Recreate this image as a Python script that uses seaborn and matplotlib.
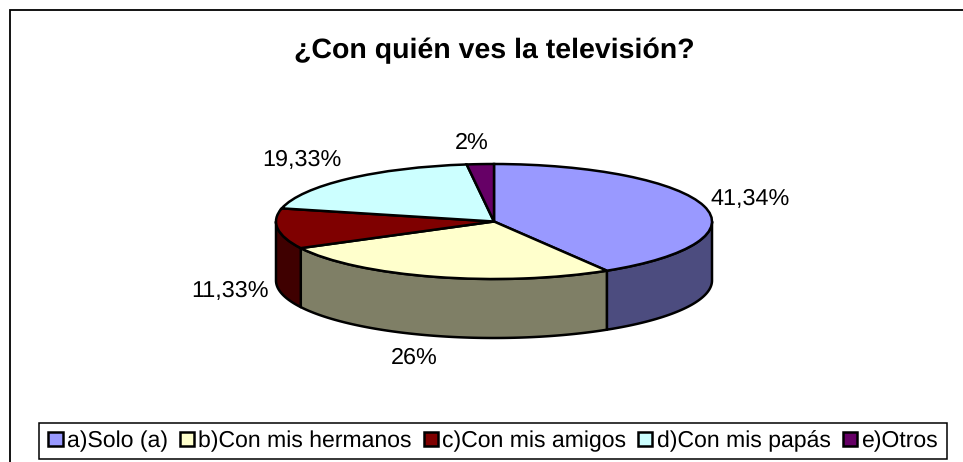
import numpy as np
import matplotlib
matplotlib.use("Agg")
import matplotlib.pyplot as plt
from matplotlib.patches import Patch, Rectangle
from matplotlib.transforms import Affine2D
import seaborn as sns

categories = ["a)Solo (a)", "b)Con mis hermanos", "c)Con mis amigos", "d)Con mis papás", "e)Otros"]
values = [41.34, 26, 11.33, 19.33, 2]
value_labels = ["41,34%", "26%", "11,33%", "19,33%", "2%"]
title = "¿Con quién ves la televisión?"

top_colors = ["#9999FF", "#FFFFCC", "#7F0000", "#CCFFFF", "#660066"]
side_colors = ["#4C4C7F", "#7F7F66", "#3F0000", "#667F7F", "#330033"]

sns.set_theme(style="white")
plt.rcParams["font.family"] = ["Liberation Sans", "DejaVu Sans"]
plt.rcParams["text.kerning_factor"] = 0
plt.rcParams["text.hinting"] = "no_hinting"

W, H = 963, 462
CX, CY, RX, RY, DEPTH = 494, 221.5, 218, 57.5, 59
LW = 1.8
label_xy = [(750.5, 199), (414, 358), (230, 291), (302, 160), (472, 143)]

fig = plt.figure(figsize=(W / 100, H / 100), dpi=100, facecolor="white")
ax = fig.add_axes([0, 0, 1, 1])
ax.set_xlim(0, W)
ax.set_ylim(H, 0)
ax.axis("off")

# chart frame
ax.add_patch(Rectangle((10, 10), W + 20, H + 20, fc="white", ec="black", lw=1.3, zorder=0))

# side walls, from the same cumulative shares as the top
edges = np.concatenate([[0], np.cumsum(values)]) / np.sum(values) * 2 * np.pi
for i, color in enumerate(side_colors):
    lo = max(edges[i], np.pi / 2)
    hi = min(edges[i + 1], 3 * np.pi / 2)
    if hi <= lo:
        continue
    t = np.linspace(lo, hi, 120)
    x = CX + RX * np.sin(t)
    y = CY - RY * np.cos(t)
    ax.fill(np.r_[x, x[::-1]], np.r_[y, y[::-1] + DEPTH], fc=color, ec="black",
            lw=LW, joinstyle="round", zorder=2)

# top face: a library pie, squashed into an ellipse (y axis is inverted)
wedges, _ = ax.pie(values, colors=top_colors, startangle=90, counterclock=False, radius=1,
                   wedgeprops=dict(edgecolor="black", linewidth=LW), frame=True)
ax.set_xlim(0, W)
ax.set_ylim(H, 0)
ax.set_aspect("auto")
ax.axis("off")
squash = Affine2D().scale(RX, -RY).translate(CX, CY) + ax.transData
for w in wedges:
    w.set_transform(squash)
    w.set_zorder(3)

for (x, y), s in zip(label_xy, value_labels):
    ax.text(x, y, s, fontsize=16.8, color="black", ha="center", va="center", zorder=5)

ax.text(494, 51, title, fontsize=20.5, fontweight="bold", color="black",
        ha="center", va="center", zorder=5)

# legend box, with the library legend laid over it
ax.add_patch(Rectangle((39, 423), 908, 36, fc="white", ec="black", lw=1.1, zorder=5))
handles = [Patch(fc=c, ec="black", lw=1.8) for c in top_colors]
leg = ax.legend(handles, categories, loc="center", bbox_to_anchor=(493, 441),
                bbox_transform=ax.transData, ncol=5, fontsize=16.6, frameon=False,
                columnspacing=0.52, handlelength=0.62, handleheight=0.62, handletextpad=0.18,
                borderpad=0.3, borderaxespad=0, labelcolor="black")
leg.set_zorder(6)

fig.savefig("out.png", dpi=100, facecolor="white")
